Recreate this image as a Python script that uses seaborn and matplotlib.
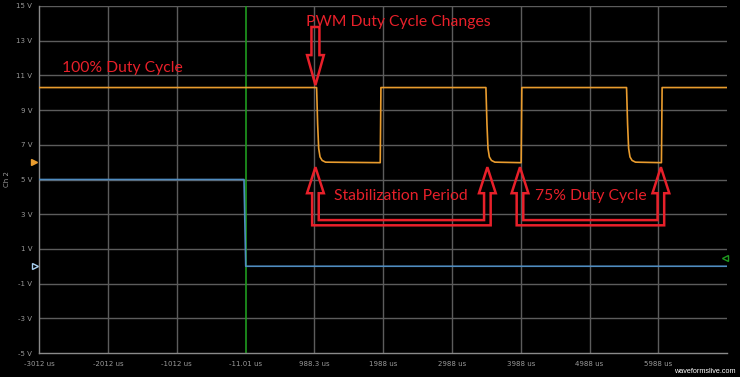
import numpy as np
import pandas as pd
import matplotlib
matplotlib.use('Agg')
import matplotlib.pyplot as plt
from matplotlib.patches import Polygon
import seaborn as sns

# Scope grid: time ticks (us) and voltage ticks (V)
time_ticks = [-3012, -2012, -1012, -11.01, 988.3, 1988, 2988, 3988, 4988, 5988]
time_labels = ['-3012 us', '-2012 us', '-1012 us', '-11.01 us', '988.3 us',
               '1988 us', '2988 us', '3988 us', '4988 us', '5988 us']
volt_ticks = [15, 13, 11, 9, 7, 5, 3, 1, -1, -3, -5]
volt_labels = ['15 V', '13 V', '11 V', '9 V', '7 V', '5 V', '3 V', '1 V', '-1 V', '-3 V', '-5 V']

# Orange trace (PWM output)
orange_t = [-3012, 1020, 1035, 1050, 1070, 1100, 1150, 1945, 1955,
            3481, 3496, 3511, 3531, 3561, 3611, 3993, 4003,
            5525, 5540, 5555, 5575, 5605, 5655, 6032, 6042, 6988]
orange_v = [10.3, 10.3, 8.2, 6.8, 6.3, 6.1, 6.0, 5.97, 10.3,
            10.3, 8.2, 6.8, 6.3, 6.1, 6.0, 5.97, 10.3,
            10.3, 8.2, 6.8, 6.3, 6.1, 6.0, 5.97, 10.3, 10.3]

# Blue trace (control input)
blue_t = [-3012, -35, -10, 6988]
blue_v = [5.0, 5.0, 0.0, 0.0]

trigger_t = -11.01

sns.set_style('dark', {'axes.facecolor': 'black', 'figure.facecolor': 'black'})

fig = plt.figure(figsize=(7.4, 3.77), dpi=100)
ax = fig.add_axes([39.2 / 740, 24 / 377, 688 / 740, 347 / 377])

orange_df = pd.DataFrame({'t': orange_t, 'v': orange_v})
blue_df = pd.DataFrame({'t': blue_t, 'v': blue_v})

ax.set_xlim(-3012, 6988)
ax.set_ylim(-5, 15)

# grid lines
for t in time_ticks[1:]:
    if t == trigger_t:
        continue
    ax.axvline(t, color='#5c5c5c', lw=1, zorder=1)
for v in volt_ticks[:-1]:
    ax.axhline(v, color='#5c5c5c', lw=1, zorder=1)
ax.axvline(trigger_t, color='#1f9a1f', lw=1.2, zorder=2)

sns.lineplot(data=blue_df, x='t', y='v', ax=ax, color='#4f8cc0', lw=1.2,
             estimator=None, sort=False, zorder=3)
sns.lineplot(data=orange_df, x='t', y='v', ax=ax, color='#e99c2e', lw=1.2,
             estimator=None, sort=False, zorder=4)

# axes styling
for s in ['top', 'right']:
    ax.spines[s].set_visible(False)
for s in ['left', 'bottom']:
    ax.spines[s].set_color('#8a8a8a')
    ax.spines[s].set_linewidth(1)
ax.set_xticks(time_ticks)
ax.set_xticklabels(time_labels)
ax.set_yticks(volt_ticks)
ax.set_yticklabels(volt_labels)
ax.tick_params(axis='both', length=0, colors='#9a9a9a', labelsize=5)
ax.tick_params(axis='x', pad=6)
ax.tick_params(axis='y', pad=5)
ax.set_xlabel('')
ax.set_ylabel('Ch 2', color='#9a9a9a', fontsize=5)
ax.yaxis.set_label_coords(-0.042, 0.5)

# channel markers
ax.plot([-3012 - 75], [6.0], marker='>', color='#e99c2e', ms=4, clip_on=False)
ax.plot([-3012 - 60], [0.0], marker='>', mfc='none', mec='#a8d0f0', ms=5, mew=1, clip_on=False)
ax.plot([6960], [0.5], marker='<', mfc='none', mec='#1f9a1f', ms=4, mew=1, clip_on=False)

red = '#e8202a'
font = ['Lato', 'DejaVu Sans']

# hollow down arrow
x0, sh, hh = 1003, 58, 122
down = [(x0 - sh, 13.79), (x0 + sh, 13.79), (x0 + sh, 12.17), (x0 + hh, 12.17),
        (x0, 10.44), (x0 - hh, 12.17), (x0 - sh, 12.17)]
ax.add_patch(Polygon(down, closed=True, fill=False, ec=red, lw=1.8, zorder=6))


def u_arrow(x1, x2, y_tip=5.71, y_head=4.21, y_bot=2.36, bar=0.3, sh=48, hh=122):
    pts = [(x1, y_tip), (x1 + hh, y_head), (x1 + sh, y_head), (x1 + sh, y_bot + bar),
           (x2 - sh, y_bot + bar), (x2 - sh, y_head), (x2 - hh, y_head), (x2, y_tip),
           (x2 + hh, y_head), (x2 + sh, y_head), (x2 + sh, y_bot), (x1 - sh, y_bot),
           (x1 - sh, y_head), (x1 - hh, y_head)]
    ax.add_patch(Polygon(pts, closed=True, fill=False, ec=red, lw=1.8, zorder=6))


u_arrow(1003, 3502)
u_arrow(3976, 6024)

ax.text(870, 14.1, 'PWM Duty Cycle Changes', color=red, fontsize=11.3, family=font,
        ha='left', va='center', zorder=7)
ax.text(-2680, 11.45, '100% Duty Cycle', color=red, fontsize=11.3, family=font,
        ha='left', va='center', zorder=7)
ax.text(2251, 4.05, 'Stabilization Period', color=red, fontsize=11.3, family=font,
        ha='center', va='center', zorder=7)
ax.text(5000, 4.05, '75% Duty Cycle', color=red, fontsize=11.3, family=font,
        ha='center', va='center', zorder=7)

fig.text(0.994, 0.004, 'waveformslive.com', color='white', fontsize=5.2,
         family=['Liberation Sans', 'DejaVu Sans'], ha='right', va='bottom')

fig.savefig('out.png', dpi=100, facecolor='black')
